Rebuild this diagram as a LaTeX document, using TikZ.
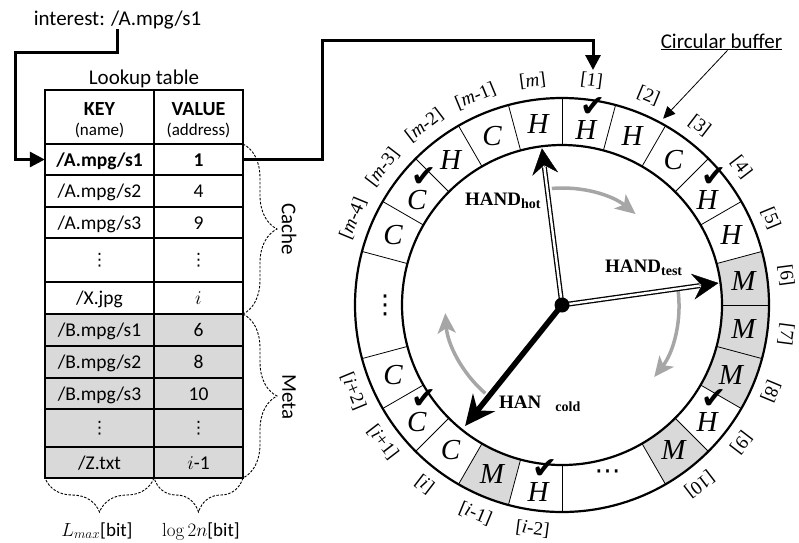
\RequirePackage{fix-cm}
\documentclass[tikz,border=0pt]{standalone}
\usepackage{fontspec}
\usetikzlibrary{arrows.meta,decorations.pathreplacing}
\newfontfamily\carl{Carlito}
\newfontfamily\libser{Liberation Serif}
\newfontfamily\djv{DejaVu Sans}
\definecolor{cellgray}{RGB}{217,217,217}
\definecolor{arrgray}{RGB}{166,166,166}
\newcommand\handsub[1]{{\fontsize{14}{16}\selectfont\raisebox{-3.5pt}{#1}}}
\newcommand\chk{{\djv\fontsize{30}{30}\selectfont ✔}}
\newcommand\tvd{{\djv\fontsize{17}{17}\selectfont ⋮}}
\newcommand\iv[1]{{\itshape #1}}
\begin{document}
\begin{tikzpicture}[x=1pt,y=-1pt,
  sans/.style={inner sep=0pt, font=\carl\fontsize{21}{25}\selectfont},
  cell/.style={inner sep=0pt, text height=13pt, text depth=0pt, font=\carl\fontsize{19.5}{23}\selectfont},
  dotcell/.style={inner sep=0pt},
  hdr/.style={anchor=base, inner sep=0pt, font=\carl\bfseries\fontsize{20}{24}\selectfont},
  hsub/.style={anchor=base, inner sep=0pt, font=\carl\fontsize{17}{20}\selectfont},
  tline/.style={line width=1.3pt},
  touter/.style={line width=2.6pt},
  conn/.style={line width=3pt, -{Triangle[length=15pt,width=15pt]}},
  dbrace/.style={decorate, decoration={brace, amplitude=34pt}, dash pattern=on 2.5pt off 1.5pt, line width=0.9pt},
  ring/.style={line width=2.2pt},
  divider/.style={line width=0.8pt},
  letter/.style={inner sep=0pt, font=\libser\itshape\fontsize{29}{32}\selectfont},
  seglabel/.style={inner sep=0pt, font=\libser\fontsize{19}{22}\selectfont},
  checkm/.style={inner sep=0pt},
  grayarr/.style={arrgray, line width=3.5pt, -{Stealth[length=20pt,width=18pt,inset=5pt]}},
  handlabel/.style={inner sep=0pt, anchor=base west, font=\libser\bfseries\fontsize{19}{22}\selectfont},
  dblhand/.style={line width=1.3pt, double=white, double distance=2.4pt},
  handtip/.style={line width=0.4pt, -{Stealth[length=26pt,width=26pt,inset=9pt]}},
]
\useasboundingbox (0,0) rectangle (799,542);

% ---------------- table ----------------
\fill[cellgray] (45,314) rectangle (243,478);
\foreach \yy in {175,207,238,282,314,346,378,409,447} \draw[tline] (45,\yy) -- (243,\yy);
\draw[line width=2pt] (45,144) -- (243,144);
\draw[tline] (154,90) -- (154,478);
\draw[touter] (45,90) rectangle (243,478);

\node[hdr] (hkey) at (99.5,115) {KEY};
\node[hsub] (hname) at (99.5,135) {(name)};
\node[hdr] (hval) at (198.5,115) {VALUE};
\node[hsub] (haddr) at (198.5,135) {(address)};

\foreach \n/\yc/\k/\v in {1/159.5/{\bfseries /A.mpg/s1}/{\bfseries 1}, 2/191/{/A.mpg/s2}/4,
  3/222.5/{/A.mpg/s3}/9, 5/298/{/X.jpg}/{$i$}, 6/330/{/B.mpg/s1}/6, 7/362/{/B.mpg/s2}/8,
  8/393.5/{/B.mpg/s3}/10, 10/462.5/{/Z.txt}/{$i$-1}} {
  \node[cell, minimum width=109pt] (k\n) at (99.5,\yc) {\k};
  \node[cell, minimum width=89pt] (v\n) at (198.5,\yc) {\v};
}
\node[dotcell] (k4) at (99.5,260) {\tvd};
\node[dotcell] (v4) at (198.5,260) {\tvd};
\node[dotcell] (k9) at (99.5,428) {\tvd};
\node[dotcell] (v9) at (198.5,428) {\tvd};

\node[sans, anchor=base] (ltitle) at (144,84) {Lookup table};
\node[sans, anchor=base] (interest) at (117.5,25) {interest: /A.mpg/s1};

% connectors
\coordinate (bendA) at (15,52);
\draw[conn] (interest.south) |- (bendA) |- (k1.west);
\coordinate (bendB) at (322,40);
\coordinate (tipOne) at (593,70);
\draw[conn] (v1.east) -| (bendB) -| (tipOne);

% braces
\draw[dbrace] (243,144) -- (243,314);
\draw[dbrace] (243,314) -- (243,478);
\draw[dbrace] (154,478) -- (45,478);
\draw[dbrace] (243,478) -- (154,478);
\node[sans, rotate=-90] (cacheL) at (289,229) {Cache};
\node[sans, rotate=-90] (metaL) at (289,397) {Meta};
\node[inner sep=0pt, anchor=base, font=\carl\fontsize{19}{22}\selectfont] (lmax) at (97,536) {$L_{max}$[bit]};
\node[inner sep=0pt, anchor=base, font=\carl\fontsize{19}{22}\selectfont] (logn) at (201,536) {$\log 2n$[bit]};

% ---------------- circular buffer ----------------
\coordinate (ctr) at (562,305);
\foreach \a/\b in {15/0,0/-15,-15/-30,-45/-60,-105/-120}
  \fill[cellgray] ([shift={(\a:160pt)}]ctr) arc[start angle=\a, end angle=\b, radius=160pt]
    -- ([shift={(\b:207pt)}]ctr) arc[start angle=\b, end angle=\a, radius=207pt] -- cycle;
\draw[ring] (ctr) circle[radius=207pt];
\draw[ring] (ctr) circle[radius=160pt];
\foreach \a in {90,75,60,45,30,15,0,-15,-30,-45,-60,-90,-105,-120,-135,-150,-165,165,150,135,120,105}
  \draw[divider] ([shift={(\a:160pt)}]ctr) -- ([shift={(\a:207pt)}]ctr);

\foreach \n/\a/\l in {2/67.5/H, 3/52.5/C, 5/22.5/H, 6/7.5/M, 7/-7.5/M, 8/-22.5/M, 10/-52.5/M,
  im1/-112.5/M, i/-127.5/C, ip2/-157.5/C, m4/157.5/C, m2/127.5/H, m1/112.5/C, m/97.5/H}
  \node[letter] (seg\n) at ([shift={(\a:183pt)}]ctr) {\l};
\foreach \n/\a/\l in {1/82.5/H, 4/37.5/H, 9/-37.5/H, im2/-97.5/H, ip1/-142.5/C, m3/142.5/C} {
  \node[letter] (seg\n) at ([shift={(\a:183pt)},yshift=-6pt]ctr) {\l};
  \node[checkm] (chk\n) at ([shift={(\a:183pt)},xshift=7pt,yshift=17pt]ctr) {\chk};
}
\node[inner sep=0pt, font=\djv\fontsize{26}{28}\selectfont] (segdots) at ([shift={(-75:176pt)}]ctr) {⋯};
\node[inner sep=0pt, font=\djv\fontsize{26}{28}\selectfont] (segvdots) at ([shift={(180:177pt)}]ctr) {⋮};

\foreach \n/\a/\r/\t in {1/82.5/-7.5/{[1]}, 2/67.5/-22.5/{[2]}, 3/52.5/-37.5/{[3]}, 4/37.5/-52.5/{[4]},
  5/22.5/-67.5/{[5]}, 6/7.5/-82.5/{[6]}, 7/-7.5/-97.5/{[7]}, 8/-22.5/-112.5/{[8]},
  9/-37.5/-127.5/{[9]}, 10/-52.5/-142.5/{[10]},
  im2/-97.5/-7.5/{[\iv{i}-2]}, im1/-112.5/-22.5/{[\iv{i}-1]}, i/-127.5/-37.5/{[\iv{i}]},
  ip1/-142.5/-52.5/{[\iv{i}+1]}, ip2/-157.5/-67.5/{[\iv{i}+2]},
  m4/157.5/67.5/{[\iv{m}-4]}, m3/142.5/52.5/{[\iv{m}-3]}, m2/127.5/37.5/{[\iv{m}-2]},
  m1/112.5/22.5/{[\iv{m}-1]}, m/97.5/7.5/{[\iv{m}]}}
  \node[seglabel, rotate=\r] (lab\n) at ([shift={(\a:226pt)}]ctr) {\t};

% rotation arrows
\draw[grayarr] ([shift={(95:117pt)}]ctr) arc[start angle=95, end angle=51, radius=117pt];
\draw[grayarr] ([shift={(8:117pt)}]ctr) arc[start angle=8, end angle=-38, radius=117pt];
\draw[grayarr] ([shift={(229:117pt)}]ctr) arc[start angle=229, end angle=184, radius=117pt];

% hands
\coordinate (hotTip) at ([shift={(97.3:158pt)}]ctr);
\coordinate (hotEnd) at ([shift={(97.3:139pt)}]ctr);
\coordinate (testTip) at ([shift={(8:158pt)}]ctr);
\coordinate (testEnd) at ([shift={(8:139pt)}]ctr);
\coordinate (coldTip) at ([shift={(231.3:155pt)}]ctr);
\draw[handtip] (ctr) -- (hotTip);
\draw[dblhand] (ctr) -- (hotEnd);
\draw[handtip] (ctr) -- (testTip);
\draw[dblhand] (ctr) -- (testEnd);
\draw[line width=5.5pt, -{Stealth[length=30pt,width=28pt,inset=10pt]}] (ctr) -- (coldTip);
\node[circle, fill=black, minimum size=15pt, inner sep=0pt] (hub) at (ctr) {};

\node[handlabel] (hotL) at (465,205) {HAND\handsub{hot}};
\node[handlabel] (testL) at (605,272) {HAND\handsub{test}};
\node[handlabel] (coldL) at (499,408) {HAN\hspace{14pt}\handsub{cold}};

% circular buffer label
\node[sans, anchor=base] (cbuf) at (721.5,48) {\underline{Circular buffer}};
\coordinate (cbufTip) at ([shift={(61.5:212pt)}]ctr);
\draw[line width=0.8pt, -{Triangle[length=12pt,width=11pt]}] ([xshift=6pt]cbuf.south) -- (cbufTip);
\end{tikzpicture}
\end{document}
